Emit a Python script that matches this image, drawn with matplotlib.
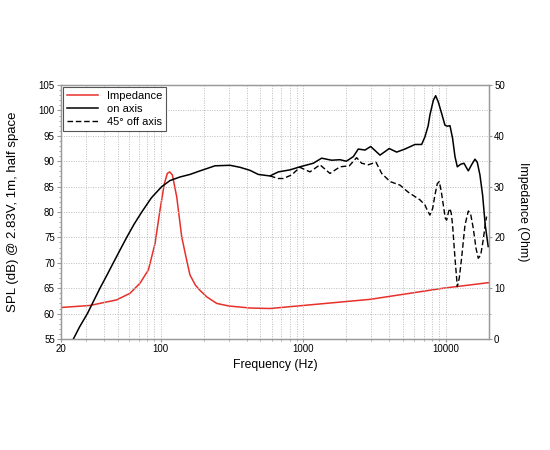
import matplotlib
matplotlib.use("Agg")
import matplotlib.pyplot as plt
from matplotlib.ticker import FixedLocator, FixedFormatter, NullFormatter, MultipleLocator

plt.rcParams["font.family"] = ["Liberation Sans", "DejaVu Sans"]

# on-axis SPL (dB)
on_freq = [24.4, 27.0, 30.6, 34.0, 37.5, 42.0, 46.5, 52.0, 57.7, 65.0, 73.6, 86.0,
           101.6, 116.2, 136.5, 160.3, 188.4, 240, 306, 360, 423, 483, 583, 667, 806,
           946, 1173, 1342, 1577, 1806, 2000, 2238, 2426, 2704, 2964, 3446, 4000, 4508,
           5153, 6055, 6748, 7115, 7500, 7711, 8150, 8460, 8820, 9320, 9830, 10200, 10660,
           11120, 11560, 12000, 12660, 13360, 14330, 15110, 15960, 16560, 17290, 18060,
           18840, 19760]
on_spl = [55.0, 57.4, 60.0, 62.6, 65.0, 67.6, 70.0, 72.6, 75.0, 77.6, 80.0, 82.8,
          85.0, 86.2, 86.9, 87.4, 88.1, 89.1, 89.2, 88.8, 88.2, 87.4, 87.1, 87.9, 88.3,
          88.9, 89.6, 90.6, 90.2, 90.3, 90.0, 90.9, 92.4, 92.2, 92.9, 91.2, 92.5, 91.8,
          92.4, 93.3, 93.3, 94.8, 97.0, 99.1, 102.0, 102.9, 101.7, 99.4, 97.1, 96.9, 97.0,
          94.5, 90.9, 88.9, 89.4, 89.6, 88.1, 89.3, 90.4, 89.8, 87.3, 83.3,
          77.4, 73.2]

# 45 degree off-axis SPL (dB)
off_freq = [583, 667, 723, 828, 946, 1112, 1307, 1535, 1806, 2100, 2361, 2563, 2853,
            3228, 3540, 4046, 4755, 5434, 6565, 7115, 7380, 7711, 8060, 8358, 8690, 8970,
            9270, 9570, 9880, 10100, 10430, 10660, 10890, 11120, 11560, 12000, 12390,
            12880, 13580, 14330, 14860, 15530, 16220, 16830, 17500, 18230, 18960, 19260]
off_spl = [87.1, 86.6, 86.6, 87.3, 88.8, 87.9, 89.3, 87.6, 88.9, 89.1, 90.7, 89.6, 89.3,
           89.8, 87.6, 86.0, 85.3, 83.9, 82.4, 81.4, 80.4, 79.4, 80.7, 83.3, 85.6, 86.0,
           84.0, 81.4, 78.8, 78.4, 80.1, 80.7, 79.7, 77.4, 70.9, 65.3, 67.0,
           71.1, 77.4, 80.2, 79.7, 76.8, 72.9, 70.9, 71.5, 74.5, 78.1, 79.1]

# impedance (Ohm)
imp_freq = [20, 31.9, 49.1, 60.9, 71.6, 81.9, 91.2, 98.8, 106, 111.2, 115.6, 120.6,
            129.4, 140.3, 152, 160.3, 175, 188, 210, 247, 300, 423, 583, 998, 2930,
            9570, 20000]
imp_ohm = [6.2, 6.6, 7.7, 9.0, 11.0, 13.6, 18.8, 25.4, 30.6, 32.6, 32.9, 32.3,
           28.0, 20.1, 15.5, 12.6, 10.6, 9.6, 8.3, 7.0, 6.5, 6.1, 6.0, 6.6, 7.8,
           10.0, 11.1]

fig = plt.figure(figsize=(5.5, 4.5), dpi=100)
ax = fig.add_axes([0.111, 0.2467, 0.778, 0.5643])
ax2 = ax.twinx()

grid_color = "#bdbdbd"
spine_color = "#9a9a9a"

ax.set_xscale("log")
ax.set_xlim(20, 20000)
ax.set_ylim(55, 105)
ax2.set_ylim(0, 50)

ax.xaxis.set_major_locator(FixedLocator([20, 100, 1000, 10000]))
ax.xaxis.set_major_formatter(FixedFormatter(["20", "100", "1000", "10000"]))
minors = [m * d for d in (10, 100, 1000, 10000) for m in range(2, 10) if 20 < m * d < 20000]
ax.xaxis.set_minor_locator(FixedLocator(minors))
ax.xaxis.set_minor_formatter(NullFormatter())
ax.yaxis.set_major_locator(MultipleLocator(5))
ax.yaxis.set_minor_locator(MultipleLocator(1))
ax2.yaxis.set_major_locator(MultipleLocator(10))
ax2.yaxis.set_minor_locator(MultipleLocator(5))

dots = (0, (1, 1.5))
ax.grid(True, which="both", axis="x", color=grid_color, linestyle=dots, linewidth=0.7)
ax.grid(True, which="major", axis="y", color=grid_color, linestyle=dots, linewidth=0.7)
ax.set_axisbelow(True)

for a in (ax, ax2):
    for s in a.spines.values():
        s.set_color(spine_color)
        s.set_linewidth(0.9)
    a.tick_params(which="both", colors=spine_color, labelcolor="black", labelsize=7)
    a.tick_params(which="major", length=3, pad=1.5)
    a.tick_params(which="minor", length=1.5)
ax.tick_params(axis="x", which="major", length=2, pad=1.5)
ax2.tick_params(which="major", length=2.5, pad=1.2)

line_imp, = ax2.plot(imp_freq, imp_ohm, color="#e8302a", linewidth=1.1, label="Impedance")
line_on, = ax.plot(on_freq, on_spl, color="black", linewidth=1.1, label="on axis")
line_off, = ax.plot(off_freq, off_spl, color="black", linewidth=1.0, linestyle=(0, (4, 2)),
                    label="45° off axis")

ax.set_zorder(ax2.get_zorder() + 1)
ax.patch.set_visible(False)

ax.set_xlabel("Frequency (Hz)", fontsize=8.8)
ax.xaxis.set_label_coords(0.5, -0.078)
ax.set_ylabel("SPL (dB) @ 2.83V, 1m, half space", fontsize=9.5)
ax.yaxis.set_label_coords(-0.099, 0.5)
ax2.set_ylabel("Impedance (Ohm)", fontsize=8.8, rotation=270, va="bottom")
ax2.yaxis.set_label_coords(1.066, 0.5)

leg = ax.legend(handles=[line_imp, line_on, line_off], loc="upper left", fontsize=8,
                fancybox=False, framealpha=1, edgecolor="#555555", borderaxespad=0.2,
                handlelength=2.8, labelspacing=0.25, borderpad=0.35)
leg.get_frame().set_linewidth(0.8)

fig.savefig("out.png", dpi=100)
